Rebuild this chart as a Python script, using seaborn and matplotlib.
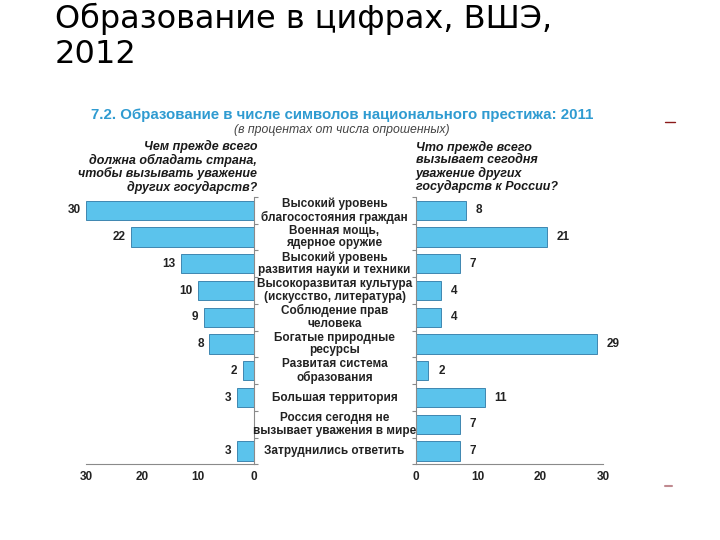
import matplotlib
matplotlib.use("Agg")
import matplotlib.pyplot as plt
import matplotlib.transforms as mtransforms
from matplotlib.lines import Line2D
import seaborn as sns
import pandas as pd
import numpy as np

sns.set_style("white")
plt.rcParams['font.family'] = ['Liberation Sans', 'DejaVu Sans']

categories = [
    "Высокий уровень\nблагосостояния граждан",
    "Военная мощь,\nядерное оружие",
    "Высокий уровень\nразвития науки и техники",
    "Высокоразвитая культура\n(искусство, литература)",
    "Соблюдение прав\nчеловека",
    "Богатые природные\nресурсы",
    "Развитая система\nобразования",
    "Большая территория",
    "Россия сегодня не\nвызывает уважения в мире",
    "Затруднились ответить",
]
left_values = [30, 22, 13, 10, 9, 8, 2, 3, None, 3]
right_values = [8, 21, 7, 4, 4, 29, 2, 11, 7, 7]
x_ticks = [0, 10, 20, 30]

slide_title_1 = "Образование в цифрах, ВШЭ,"
slide_title_2 = "2012"
chart_title = "7.2. Образование в числе символов национального престижа: 2011"
chart_subtitle = "(в процентах от числа опрошенных)"
left_question = "Чем прежде всего\nдолжна обладать страна,\nчтобы вызывать уважение\nдругих государств?"
right_question = "Что прежде всего\nвызывает сегодня\nуважение других\nгосударств к России?"

bar_color = "#5BC3EC"
edge_color = "#3F87B0"
title_color = "#2F9BD1"

W, H = 720, 540
fig = plt.figure(figsize=(7.2, 5.4), dpi=100)

def fx(px):
    return px / W

def fy(py):
    return 1 - py / H

ax_bottom = fy(464.4)
ax_h = (464.4 - 196.9) / H
ax1 = fig.add_axes([fx(86), ax_bottom, (254 - 86) / W, ax_h])
ax2 = fig.add_axes([fx(416), ax_bottom, (603 - 416) / W, ax_h])

df_left = pd.DataFrame({"cat": categories, "val": left_values}).dropna()
df_right = pd.DataFrame({"cat": categories, "val": right_values})

sns.barplot(data=df_left, x="val", y="cat", order=categories, orient="h",
            color=bar_color, edgecolor=edge_color, linewidth=0.7,
            width=0.72, saturation=1, ax=ax1)
sns.barplot(data=df_right, x="val", y="cat", order=categories, orient="h",
            color=bar_color, edgecolor=edge_color, linewidth=0.7,
            width=0.72, saturation=1, ax=ax2)

ax1.set_xlim(30, 0)
ax2.set_xlim(0, 30)

lab_kw = dict(fontsize=8.5, fontweight="bold", color="#222222")
ax1.bar_label(ax1.containers[0], labels=[f"{int(v)}" for v in df_left["val"]],
              padding=4, **lab_kw)
ax2.bar_label(ax2.containers[0], labels=[f"{int(v)}" for v in df_right["val"]],
              padding=7, **lab_kw)

spine_c = "#8a8a8a"
for ax, side in ((ax1, "right"), (ax2, "left")):
    for s in ax.spines.values():
        s.set_visible(False)
    ax.spines["bottom"].set_visible(True)
    ax.spines[side].set_visible(True)
    ax.spines["bottom"].set_color(spine_c)
    ax.spines[side].set_color(spine_c)
    ax.spines["bottom"].set_linewidth(0.8)
    ax.spines[side].set_linewidth(0.8)
    ax.set_xlabel("")
    ax.set_ylabel("")
    ax.set_xticks(x_ticks)
    ax.set_xticklabels([str(t) for t in x_ticks], fontsize=8.5, fontweight="bold",
                       color="#222222")
    ax.tick_params(axis="x", direction="out", length=3, width=0.8, color=spine_c, pad=2)
    ax.set_yticks(np.arange(-0.5, len(categories), 1.0))
    ax.set_yticklabels([])
    ax.tick_params(axis="y", direction="out", length=3, width=0.8, color=spine_c,
                   left=(side == "left"), right=(side == "right"),
                   labelleft=False, labelright=False)
    ax.set_ylim(len(categories) - 0.5, -0.5)
    ax.grid(False)

# category labels in the middle
trans = mtransforms.blended_transform_factory(fig.transFigure, ax1.transData)
for i, c in enumerate(categories):
    fig.text(fx(334.5), i, c, transform=trans, ha="center", va="center",
             fontsize=8.5, fontweight="bold", color="#222222", linespacing=1.1)

# slide title
fig.text(fx(55), fy(28), slide_title_1, fontsize=23, family="DejaVu Sans",
         color="black", va="baseline", ha="left")
fig.text(fx(55), fy(63), slide_title_2, fontsize=23, family="DejaVu Sans",
         color="black", va="baseline", ha="left")

# chart title & subtitle
fig.text(fx(342), fy(115), chart_title, fontsize=10.8, fontweight="bold",
         color=title_color, ha="center", va="center")
fig.text(fx(342), fy(129.5), chart_subtitle, fontsize=8.8, style="italic",
         color="#444444", ha="center", va="center")

# questions
fig.text(fx(257), fy(167), left_question, fontsize=9, fontweight="bold",
         style="italic", color="#1a1a1a", ha="right", va="center", linespacing=1.05)
fig.text(fx(416), fy(167), right_question, fontsize=9, fontweight="bold",
         style="italic", color="#1a1a1a", ha="left", va="center", linespacing=1.05)

# small decorative dashes on the right
fig.add_artist(Line2D([fx(665), fx(675)], [fy(122), fy(122)], color="#8b1a1a",
                      linewidth=1.0, transform=fig.transFigure))
fig.add_artist(Line2D([fx(665), fx(672)], [fy(486), fy(486)], color="#c08a90",
                      linewidth=1.5, transform=fig.transFigure))

fig.savefig("out.png", dpi=100)
